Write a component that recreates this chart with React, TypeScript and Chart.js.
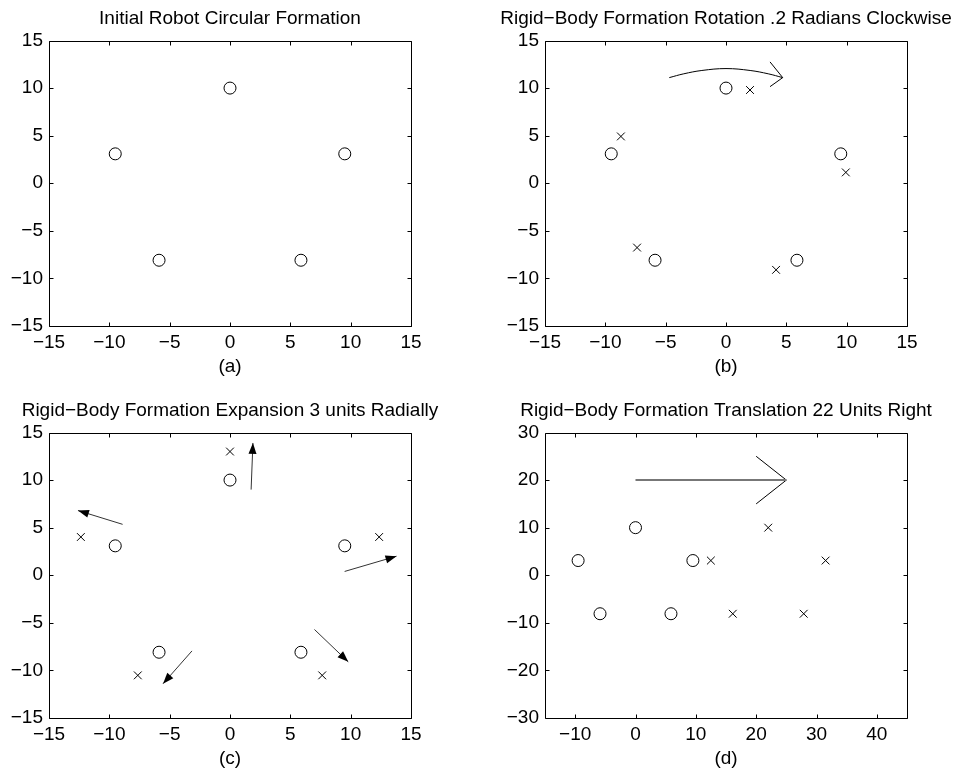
import React, { useEffect, useRef } from 'react';
import { Chart, registerables } from 'chart.js';

Chart.register(...registerables);

const FONT_FAMILY = '"Liberation Sans", Arial, Helvetica, sans-serif';

// ---- Data ----
const panelTitles = [
  'Initial Robot Circular Formation',
  'Rigid\u2212Body Formation Rotation .2 Radians Clockwise',
  'Rigid\u2212Body Formation Expansion 3 units Radially',
  'Rigid\u2212Body Formation Translation 22 Units Right',
];
const panelXLabels = ['(a)', '(b)', '(c)', '(d)'];

// initial robot positions (circles)
const robotX = [0, 9.51, 5.88, -5.88, -9.51];
const robotY = [10, 3.09, -8.09, -8.09, 3.09];

// (b) rotated positions (crosses)
const rotatedX = [1.99, 9.93, 4.15, -7.37, -8.71];
const rotatedY = [9.8, 1.14, -9.1, -6.76, 4.92];

// (b) curved arrow
const rotArcX = [-4.7, -3.5, -2, 0, 2, 3.5, 4.7];
const rotArcY = [11.1, 11.5, 11.85, 12.05, 11.85, 11.5, 11.1];
const rotHeadX = [3.65, 4.7, 3.65];
const rotHeadY = [12.75, 11.1, 10.15];

// (c) expanded positions (crosses)
const expandedX = [0, 12.36, 7.64, -7.64, -12.36];
const expandedY = [13, 4.02, -10.52, -10.52, 4.02];

// (c) arrows
const expTailX = [1.75, 9.5, 7.0, -3.15, -8.9];
const expTailY = [9.0, 0.4, -5.7, -7.95, 5.35];
const expTipX = [1.9, 13.8, 9.8, -5.55, -12.6];
const expTipY = [13.9, 2.0, -9.1, -11.4, 6.8];

// (d) translated positions (crosses)
const translatedX = [22, 31.51, 27.88, 16.12, 12.49];
const translatedY = [10, 3.09, -8.09, -8.09, 3.09];

// (d) arrow
const transShaftX = [0, 25];
const transShaftY = [20, 20];
const transHeadX = [20, 25, 20];
const transHeadY = [25, 20, 15];

// ticks
const ticks15 = [-15, -10, -5, 0, 5, 10, 15];
const ticksDX = [-10, 0, 10, 20, 30, 40];
const ticksDY = [-30, -20, -10, 0, 10, 20, 30];

// ---- helpers ----
const pts = (xs: number[], ys: number[]) => xs.map((x, i) => ({ x, y: ys[i] }));

const circleSet = (xs: number[], ys: number[]) => ({
  data: pts(xs, ys),
  showLine: false,
  pointStyle: 'circle',
  pointRadius: 6,
  pointHoverRadius: 6,
  pointBorderWidth: 1,
  borderColor: '#000',
  pointBorderColor: '#000',
  backgroundColor: 'rgba(0,0,0,0)',
  pointBackgroundColor: 'rgba(0,0,0,0)',
});

const crossSet = (xs: number[], ys: number[]) => ({
  data: pts(xs, ys),
  showLine: false,
  pointStyle: 'crossRot',
  pointRadius: 5.5,
  pointHoverRadius: 5.5,
  pointBorderWidth: 1,
  borderColor: '#000',
  pointBorderColor: '#000',
  backgroundColor: 'rgba(0,0,0,0)',
});

const lineSet = (xs: number[], ys: number[], color: string, width: number, extra: any = {}) => ({
  data: pts(xs, ys),
  showLine: true,
  pointRadius: 0,
  pointHoverRadius: 0,
  borderColor: color,
  backgroundColor: color,
  borderWidth: width,
  fill: false,
  ...extra,
});

const fmt = (v: any) => String(v).replace('-', '\u2212');

// ---- plugins ----
const framePlugin = {
  id: 'matlabFrame',
  beforeDatasetsDraw(chart: any) {
    const { ctx, chartArea } = chart;
    const l = Math.round(chartArea.left) + 0.5;
    const r = Math.round(chartArea.right) + 0.5;
    const t = Math.round(chartArea.top) + 0.5;
    const b = Math.round(chartArea.bottom) + 0.5;
    const TL = 4;
    ctx.save();
    ctx.strokeStyle = '#000';
    ctx.lineWidth = 1;
    ctx.beginPath();
    ctx.rect(l, t, r - l, b - t);
    const xs = chart.scales.x;
    xs.ticks.forEach((tk: any) => {
      const px = Math.round(xs.getPixelForValue(tk.value)) + 0.5;
      ctx.moveTo(px, b);
      ctx.lineTo(px, b - TL);
      ctx.moveTo(px, t);
      ctx.lineTo(px, t + TL);
    });
    const ys = chart.scales.y;
    ys.ticks.forEach((tk: any) => {
      const py = Math.round(ys.getPixelForValue(tk.value)) + 0.5;
      ctx.moveTo(l, py);
      ctx.lineTo(l + TL, py);
      ctx.moveTo(r, py);
      ctx.lineTo(r - TL, py);
    });
    ctx.stroke();
    ctx.restore();
  },
};

const arrowHeadPlugin = {
  id: 'arrowHeads',
  afterDatasetsDraw(chart: any) {
    const { ctx } = chart;
    chart.data.datasets.forEach((ds: any, i: number) => {
      if (ds.arrowHead !== 'filled') return;
      const meta = chart.getDatasetMeta(i);
      const n = meta.data.length;
      if (n < 2) return;
      const p1 = meta.data[n - 2];
      const p2 = meta.data[n - 1];
      const ang = Math.atan2(p2.y - p1.y, p2.x - p1.x);
      const L = 11;
      const W = 4;
      const bx = p2.x - L * Math.cos(ang);
      const by = p2.y - L * Math.sin(ang);
      const nx = -Math.sin(ang) * W;
      const ny = Math.cos(ang) * W;
      ctx.save();
      ctx.fillStyle = '#000';
      ctx.beginPath();
      ctx.moveTo(p2.x, p2.y);
      ctx.lineTo(bx + nx, by + ny);
      ctx.lineTo(bx - nx, by - ny);
      ctx.closePath();
      ctx.fill();
      ctx.restore();
    });
  },
};

// ---- panels ----
const panels = [
  {
    left: 0, top: 0, width: 460, yWidth: 49, padRight: 49,
    xMin: -15, xMax: 15, yMin: -15, yMax: 15, xTicks: ticks15, yTicks: ticks15,
    datasets: [circleSet(robotX, robotY)],
  },
  {
    left: 494, top: 0, width: 464, yWidth: 51, padRight: 51,
    xMin: -15, xMax: 15, yMin: -15, yMax: 15, xTicks: ticks15, yTicks: ticks15,
    datasets: [
      lineSet(rotArcX, rotArcY, '#000', 1, { tension: 0.4 }),
      lineSet(rotHeadX, rotHeadY, '#000', 1),
      circleSet(robotX, robotY),
      crossSet(rotatedX, rotatedY),
    ],
  },
  {
    left: 0, top: 392, width: 460, yWidth: 49, padRight: 49,
    xMin: -15, xMax: 15, yMin: -15, yMax: 15, xTicks: ticks15, yTicks: ticks15,
    datasets: [
      ...expTailX.map((_, i) =>
        lineSet([expTailX[i], expTipX[i]], [expTailY[i], expTipY[i]], '#333', 1, { arrowHead: 'filled' })
      ),
      circleSet(robotX, robotY),
      crossSet(expandedX, expandedY),
    ],
  },
  {
    left: 494, top: 392, width: 464, yWidth: 51, padRight: 51,
    xMin: -15, xMax: 45, yMin: -30, yMax: 30, xTicks: ticksDX, yTicks: ticksDY,
    datasets: [
      lineSet(transShaftX, transShaftY, '#777', 2),
      lineSet(transHeadX, transHeadY, '#000', 1),
      circleSet(robotX, robotY),
      crossSet(translatedX, translatedY),
    ],
  },
];

const HEIGHT = 378;
const FONT = { size: 19, family: FONT_FAMILY, weight: 'normal' as const };

function Panel({ idx }: { idx: number }) {
  const ref = useRef<HTMLCanvasElement | null>(null);
  const p = panels[idx];
  useEffect(() => {
    if (!ref.current) return;
    const chart = new Chart(ref.current, {
      type: 'scatter',
      data: { datasets: p.datasets as any },
      options: {
        animation: false,
        responsive: false,
        devicePixelRatio: 1,
        events: [],
        layout: { padding: 0 },
        plugins: {
          legend: { display: false },
          tooltip: { enabled: false },
          title: {
            display: true,
            text: panelTitles[idx],
            color: '#000',
            font: FONT,
            padding: { top: 7, bottom: 10.7 },
          },
        },
        scales: {
          x: {
            type: 'linear',
            min: p.xMin,
            max: p.xMax,
            afterBuildTicks: (s: any) => { s.ticks = p.xTicks.map((v) => ({ value: v })); },
            afterFit: (s: any) => { s.height = 52; },
            grid: { display: false, drawTicks: false },
            border: { display: false },
            ticks: { padding: 5, color: '#000', font: FONT, autoSkip: false, maxRotation: 0, callback: fmt },
            title: { display: true, text: panelXLabels[idx], color: '#000', font: FONT, padding: { top: 0, bottom: 0 } },
          },
          y: {
            type: 'linear',
            position: 'left',
            min: p.yMin,
            max: p.yMax,
            afterBuildTicks: (s: any) => { s.ticks = p.yTicks.map((v) => ({ value: v })); },
            afterFit: (s: any) => { s.width = p.yWidth; },
            grid: { display: false, drawTicks: false },
            border: { display: false },
            ticks: { padding: 6, color: '#000', font: FONT, autoSkip: false, callback: fmt },
          },
          yRightSpace: {
            type: 'linear',
            position: 'right',
            display: true,
            min: p.yMin,
            max: p.yMax,
            afterFit: (s: any) => { s.width = p.padRight; },
            grid: { display: false, drawTicks: false },
            border: { display: false },
            ticks: { display: false },
          },
        },
      } as any,
      plugins: [framePlugin, arrowHeadPlugin],
    });
    return () => chart.destroy();
  }, [idx]);
  return (
    <canvas
      ref={ref}
      width={p.width}
      height={HEIGHT}
      style={{ position: 'absolute', left: p.left, top: p.top, width: p.width, height: HEIGHT }}
    />
  );
}

export default function App() {
  useEffect(() => {
    document.body.style.margin = '0';
    document.body.style.overflow = 'hidden';
  }, []);
  return (
    <div style={{ position: 'absolute', left: 0, top: 0, width: 958, height: 770, background: '#fff', overflow: 'hidden' }}>
      {panels.map((_, i) => (
        <Panel key={i} idx={i} />
      ))}
    </div>
  );
}
